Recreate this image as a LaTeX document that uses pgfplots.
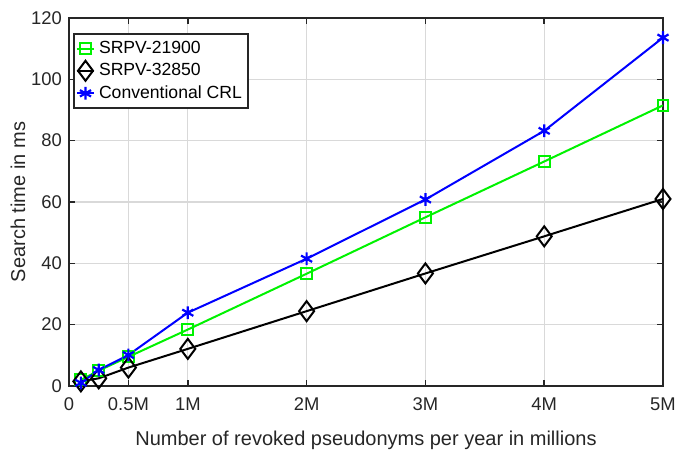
\documentclass[border=0pt]{standalone}
\usepackage{fontspec}
\setmainfont{Liberation Sans}
\usepackage{pgfplots}
\pgfplotsset{compat=1.18}

\begin{document}
\begin{tikzpicture}
\begin{axis}[
  name=ax,
  scale only axis,
  width=297pt, height=184pt,
  xmin=0, xmax=5, ymin=0, ymax=120,
  xtick={0,0.5,1,2,3,4,5},
  xticklabels={0,0.5M,1M,2M,3M,4M,5M},
  ytick={0,20,40,60,80,100,120},
  xlabel={Number of revoked pseudonyms per year in millions},
  ylabel={Search time in ms},
  xlabel style={at={(axis description cs:0.5,0)}, anchor=north, inner sep=0pt, yshift=-22.5pt},
  ylabel style={at={(axis description cs:-0.086,0.5)}, anchor=center},
  grid=major,
  grid style={gray!30, line width=0.6pt},
  axis line style={line width=0.8pt, black!85},
  tick style={black!85, line width=0.8pt},
  tick align=inside,
  major tick length=3pt,
  tick label style={font=\fontsize{9.2}{10}\selectfont, text=black!85},
  xticklabel style={yshift=-2.5pt},
  label style={font=\fontsize{10}{12}\selectfont, text=black!85},
  /pgf/number format/assume math mode=true,
  legend style={font=\fontsize{8.8}{10}\selectfont, draw=black!85, line width=0.8pt,
    inner xsep=1pt, inner ysep=1.5pt, row sep=-0.5pt, at={(0.007,0.959)}, anchor=north west},
  legend cell align=left,
  legend image code/.code={
    \draw[mark repeat=2,mark phase=2] plot coordinates {(0cm,0cm) (0.15cm,0cm) (0.3cm,0cm)};
  },
]
\addplot[green!95!black, line width=1pt, mark=square, mark size=2.7pt, mark options={solid}]
  coordinates {(0.1,2) (0.25,5) (0.5,9.5) (1,18.4) (2,36.6) (3,55) (4,73.2) (5,91.5)};
\addplot[black, line width=1pt, mark=diamond, mark size=5pt]
  coordinates {(0.1,1.5) (0.25,2.5) (0.5,6) (1,12.1) (2,24.4) (3,36.7) (4,48.8) (5,61)};
\addplot[blue, line width=1pt, mark=asterisk, mark size=3.2pt, mark options={line width=1.1pt}]
  coordinates {(0.1,1) (0.25,5.2) (0.5,10.1) (1,23.9) (2,41.5) (3,60.8) (4,83.2) (5,113.6)};
\legend{SRPV-21900,SRPV-32850,Conventional CRL}
\end{axis}
\pgfresetboundingbox
\path ([xshift=-34.5pt,yshift=-33pt]ax.south west) rectangle ([xshift=8.5pt,yshift=9pt]ax.north east);
\end{tikzpicture}
\end{document}
